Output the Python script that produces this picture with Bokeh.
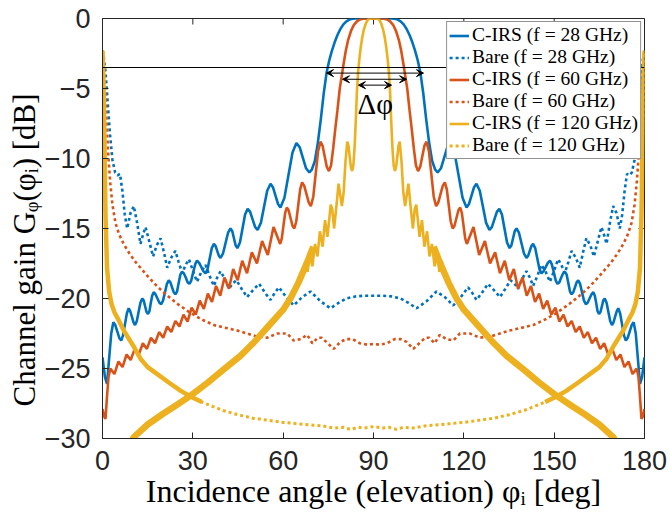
from bokeh.plotting import figure
from bokeh.models import (Range1d, FixedTicker, Span, Arrow, VeeHead, Title,
                          Legend, LegendItem, ColumnDataSource)
from bokeh.embed import file_html
from bokeh.resources import INLINE
from bokeh.core.properties import value

# ---------------- data (left half 0..90 deg; pattern is symmetric) -------------
x_ticks = [0, 30, 60, 90, 120, 150, 180]
y_ticks = [-30, -25, -20, -15, -10, -5, 0]

cirs28_ang = [0.0, 0.8, 1.5, 2.2, 2.9, 3.6, 4.25, 4.9, 5.55, 6.2, 6.8, 7.45, 8.1, 8.7, 9.2, 9.75, 10.3,
              10.8, 11.4, 12.0, 12.6, 13.2, 13.7, 14.15, 14.6, 15.1, 15.6, 16.05, 16.5, 17.0, 17.6, 18.25,
              18.9, 19.5, 20.1, 20.75, 21.4, 22.0, 22.55, 23.1, 23.65, 24.2, 24.75, 25.3, 25.85, 26.4, 27.0,
              27.65, 28.3, 28.9, 29.5, 30.15, 30.8, 31.4, 32.1, 32.8, 33.5, 34.2, 34.9, 35.6, 36.3, 37.0,
              37.55, 38.1, 38.65, 39.2, 40.0, 40.85, 41.7, 42.5, 43.1, 43.65, 44.2, 44.8, 45.65, 46.5, 47.35,
              48.2, 49.0, 49.85, 50.7, 51.5, 52.6, 53.65, 54.7, 55.8, 56.6, 57.45, 58.3, 59.1, 60.4, 61.75,
              63.1, 64.4, 65.5, 66.55, 67.6, 68.7, 69.5, 70.5, 71.5, 72.5, 73.5, 74.4, 75.3, 76.2, 77.1, 78.0,
              79.0, 80.0, 81.0, 82.0, 83.0, 84.0, 90.0]
cirs28_db = [-24.2, -25.6, -26.1, -24.3, -22.5, -21.7, -21.9, -22.35, -22.8, -23.0, -22.65, -21.85, -21.05,
             -20.7, -20.9, -21.3, -21.7, -21.9, -21.6, -20.95, -20.3, -20.0, -20.15, -20.55, -20.95, -21.1,
             -20.9, -20.3, -19.8, -19.55, -19.7, -20.0, -20.3, -20.4, -20.15, -19.55, -18.95, -18.7, -18.85,
             -19.2, -19.55, -19.7, -19.5, -18.9, -18.3, -18.1, -18.2, -18.5, -18.85, -18.95, -18.7, -18.1,
             -17.55, -17.3, -17.45, -17.75, -18.05, -18.2, -17.9, -17.15, -16.4, -16.1, -16.25, -16.6, -16.95,
             -17.1, -16.8, -16.05, -15.3, -15.0, -15.2, -15.7, -16.2, -16.4, -16.0, -15.0, -14.0, -13.6,
             -13.8, -14.35, -14.9, -15.1, -14.6, -13.45, -12.3, -11.8, -12.05, -12.65, -13.25, -13.5, -12.83,
             -11.2, -9.57, -8.9, -9.2, -9.95, -10.7, -11.0, -10.8, -10.2, -8.9, -7.2, -5.3, -3.9, -3.0, -2.3,
             -1.7, -1.2, -0.75, -0.42, -0.2, -0.08, -0.02, 0.0, 0.0]

bare28_ang = [0.0, 0.5, 1.0, 1.7, 2.5, 3.3, 4.2, 5.0, 5.8, 6.6, 7.4, 8.2, 9.3, 10.4, 11.5, 12.6, 13.5, 14.3,
              15.5, 16.8, 18.0, 19.3, 20.4, 21.5, 22.8, 24.2, 25.3, 26.5, 27.6, 28.7, 30.0, 31.4, 32.8, 34.2,
              35.6, 37.0, 38.1, 39.2, 40.6, 42.0, 43.3, 44.5, 46.2, 48.0, 50.0, 52.0, 54.0, 55.8, 57.2, 58.6,
              61.0, 63.5, 66.3, 69.1, 72.4, 75.7, 78.5, 81.0, 84.0, 87.0, 90.0]
bare28_db = [-2.3, -2.9, -3.8, -5.9, -8.3, -10.1, -11.0, -11.2, -11.1, -12.3, -14.0, -15.0, -13.9, -13.4,
             -14.6, -16.1, -15.4, -14.9, -15.9, -17.0, -16.2, -15.7, -16.7, -17.8, -17.1, -16.6, -17.4, -18.2,
             -17.6, -17.2, -18.0, -18.8, -18.1, -17.6, -18.4, -19.1, -18.5, -18.05, -18.6, -19.3, -18.9,
             -18.7, -19.3, -19.9, -19.4, -18.95, -19.6, -20.1, -19.6, -19.2, -19.9, -20.5, -19.9, -19.5,
             -20.2, -20.7, -20.3, -20.0, -19.85, -19.8, -19.8]

cirs60_ang = [0.0, 0.5, 1.0, 1.5, 2.0, 2.6, 3.95, 5.3, 6.65, 8.0, 9.35, 10.7, 12.05, 13.4, 14.75, 16.1,
              17.45, 18.8, 20.15, 21.5, 22.85, 24.2, 25.55, 26.9, 28.25, 29.6, 30.95, 32.3, 33.65, 35.0,
              36.35, 37.7, 39.1, 40.5, 42.0, 43.4, 44.9, 46.4, 48.0, 49.6, 50.45, 51.3, 52.15, 53.0, 53.95,
              54.9, 55.85, 56.8, 57.9, 59.0, 59.55, 60.1, 60.65, 61.2, 61.8, 62.45, 63.1, 63.7, 64.35, 65.0,
              65.65, 66.3, 67.0, 67.75, 68.5, 69.2, 70.0, 70.8, 71.6, 72.4, 73.1, 73.8, 74.5, 75.2, 75.9,
              76.6, 77.3, 78.0, 78.8, 79.6, 80.1, 80.8, 81.5, 82.5, 83.5, 84.5, 85.5, 86.5, 87.5, 90.0]
cirs60_db = [-27.9, -28.4, -28.6, -27.0, -25.6, -25.0, -25.4, -24.5, -24.9, -24.0, -24.4, -23.6, -24.0,
             -23.2, -23.6, -22.8, -23.2, -22.4, -22.8, -22.0, -22.4, -21.6, -22.0, -21.15, -21.65, -20.65,
             -21.15, -20.15, -20.75, -19.65, -20.25, -19.1, -19.8, -18.5, -19.3, -17.9, -18.7, -17.3, -18.2,
             -16.7, -17.1, -17.5, -16.7, -15.9, -16.4, -16.9, -15.9, -14.9, -15.5, -16.1, -15.7, -14.8,
             -13.9, -13.5, -13.7, -14.25, -14.8, -15.0, -14.5, -13.35, -12.2, -11.7, -11.95, -12.55, -13.15,
             -13.4, -12.73, -11.1, -9.47, -8.8, -9.1, -9.85, -10.6, -10.9, -10.5, -9.3, -7.9, -6.6, -5.0,
             -3.9, -3.2, -2.3, -1.6, -0.9, -0.45, -0.2, -0.07, -0.02, 0.0, 0.0]

bare60_ang = [0.0, 0.5, 1.0, 1.5, 2.0, 2.6, 3.3, 4.3, 5.5, 7.0, 9.0, 11.0, 13.0, 15.0, 18.0, 21.0, 25.0,
              29.0, 33.0, 37.0, 41.0, 45.0, 48.0, 51.0, 54.7, 58.0, 61.3, 63.5, 65.8, 68.0, 69.7, 71.5,
              72.8, 74.8, 76.8, 79.0, 81.0, 83.0, 85.5, 88.0, 90.0]
bare60_db = [-2.3, -3.6, -5.6, -8.0, -10.0, -11.8, -13.3, -14.6, -15.4, -16.1, -16.8, -17.4, -17.9, -18.4,
             -19.1, -19.7, -20.4, -21.0, -21.5, -21.9, -22.1, -22.3, -22.5, -22.7, -22.8, -22.5, -22.5,
             -23.0, -22.9, -22.6, -23.2, -22.8, -22.8, -23.2, -23.6, -23.1, -22.9, -22.9, -23.2, -23.3,
             -23.25]

cirs120_band_ang = [7.0, 10.4, 15.0, 20.0, 25.0, 29.5, 35.0, 40.0, 45.8, 50.0, 55.0, 60.0, 62.4, 65.0,
                    68.0, 70.0]
cirs120_band_db = [-31.2, -29.9, -29.0, -28.25, -27.55, -26.9, -26.0, -25.1, -24.1, -23.2, -22.0, -20.8,
                   -20.0, -18.9, -17.4, -16.3]

cirs120_ang = [66.5, 67.3, 68.1, 68.9, 69.7, 70.6, 71.4, 72.2, 73.1, 73.9, 74.7, 75.8, 76.3, 76.9, 77.6,
               78.4, 78.95, 79.5, 80.1, 80.7, 81.3, 81.7, 82.1, 82.5, 82.9, 83.3, 83.7, 84.1, 84.5, 84.9,
               85.3, 85.8, 86.3, 86.8, 87.3, 87.8, 88.3, 88.8, 89.3, 90.0]
cirs120_db = [-18.2, -17.4, -18.1, -16.9, -17.7, -16.1, -17.0, -15.2, -16.3, -14.4, -15.6, -13.3, -13.6,
              -15.0, -13.6, -11.8, -12.6, -13.4, -12.4, -10.2, -8.8, -9.1, -9.9, -10.6, -10.9, -10.5, -9.3,
              -7.4, -5.2, -3.8, -2.9, -2.0, -1.3, -0.8, -0.45, -0.2, -0.06, -0.01, 0.0, 0.0]

bare120_ang = [0.0, 0.3, 0.6, 1.0, 1.5, 2.2, 3.0, 4.0, 5.0, 7.1, 10.0, 12.6, 15.0, 18.2, 22.0, 26.0, 29.2,
               33.0, 36.5, 40.0, 45.0, 50.0, 55.0, 60.0, 65.0, 70.0, 73.0, 76.8, 80.0, 82.4, 85.0, 87.0,
               90.0]
bare120_db = [-2.3, -4.5, -8.0, -14.0, -17.8, -19.5, -20.4, -21.0, -21.4, -22.3, -23.3, -24.3, -24.9, -25.4,
              -26.0, -26.6, -27.0, -27.4, -27.7, -28.0, -28.3, -28.55, -28.7, -28.85, -28.95, -29.05, -29.1,
              -29.25, -29.2, -29.35, -29.2, -29.25, -29.15]
bare120_dense_limit = 35.0

ref_level_db = -3.5
arrow_x0 = [74.4, 79.7, 85.0]
arrow_x1 = [106.6, 101.0, 96.0]
arrow_y = [-3.9, -4.34, -4.76]
delta_label_x = [90.6]
delta_label_y = [-6.1]
delta_label_text = ["Δφ"]

x_label_text = "Incidence angle (elevation) φᵢ [deg]"
y_label_text = "Channel gain Gᵩ(φᵢ) [dB]"
labels = ["C-IRS (f = 28 GHz)", "Bare (f = 28 GHz)", "C-IRS (f = 60 GHz)",
          "Bare (f = 60 GHz)", "C-IRS (f = 120 GHz)", "Bare (f = 120 GHz)"]
colors = ["#0072BD", "#D95319", "#EDB120"]


def mirror(xs, ys):
    n = min(len(xs), len(ys))
    xs, ys = list(xs[:n]), list(ys[:n])
    rx, ry = [], []
    for x, y in zip(reversed(xs), reversed(ys)):
        if x < 90.0:
            rx.append(180.0 - x)
            ry.append(y)
    return xs + rx, ys + ry


def mirror_segment(xs, ys):
    n = min(len(xs), len(ys))
    xs, ys = list(xs[:n]), list(ys[:n])
    return [xs, [180.0 - x for x in reversed(xs)]], [ys, list(reversed(ys))]


# ---------------- figure -------------
W, H = 671, 520
BL, BR, BT, BB = 102, 27, 18, 82
p = figure(width=W, height=H, x_range=Range1d(0, 180), y_range=Range1d(-30, 0),
           output_backend="svg", toolbar_location=None,
           min_border_left=BL, min_border_right=BR, min_border_top=BT, min_border_bottom=BB)
axis_color = "#262626"
p.outline_line_color = axis_color
p.outline_line_width = 1
p.grid.visible = False
p.background_fill_color = "white"
p.border_fill_color = "white"

tick_font = "Liberation Sans"
label_font = "Liberation Serif"

p.xaxis.ticker = FixedTicker(ticks=x_ticks)
p.yaxis.ticker = FixedTicker(ticks=y_ticks)
for ax in (p.xaxis[0], p.yaxis[0]):
    ax.major_tick_in = 6
    ax.major_tick_out = 0
    ax.minor_tick_line_color = None
    ax.axis_line_color = axis_color
    ax.major_tick_line_color = axis_color
    ax.major_label_text_font = tick_font
    ax.major_label_text_font_size = "27px"
    ax.major_label_text_color = axis_color
    ax.axis_label_text_font = label_font
    ax.axis_label_text_font_style = "normal"
    ax.axis_label_text_color = "#000000"

p.xaxis.axis_label_text_font_size = "32px"
p.xaxis.major_label_standoff = 12
p.yaxis.major_label_standoff = 12
p.xaxis.axis_label = x_label_text
p.xaxis.axis_label_standoff = 0

# y-axis title: vertical text on the left, starting just above the bottom of the frame
p.add_layout(Title(text=y_label_text, align="left", offset=32, standoff=0, vertical_align="bottom",
                   text_font=label_font, text_font_size="31px", text_font_style="normal",
                   text_color="#000000"), "left")

# inward tick marks on the top and right edges of the box (6 px long)
px_per_db = (H - BT - BB) / 30.0
px_per_deg = (W - BL - BR) / 180.0
tick_len_db = 6.0 / px_per_db
tick_len_deg = 6.0 / px_per_deg
p.segment(x0=x_ticks, y0=[0.0] * len(x_ticks), x1=x_ticks, y1=[-tick_len_db] * len(x_ticks),
          line_color=axis_color, line_width=1)
p.segment(x0=[180.0] * len(y_ticks), y0=y_ticks, x1=[180.0 - tick_len_deg] * len(y_ticks), y1=y_ticks,
          line_color=axis_color, line_width=1)

lw = 2.6
dash = "3 3"

x, y = mirror(cirs28_ang, cirs28_db)
r_c28 = p.line(x, y, line_color=colors[0], line_width=lw)
x, y = mirror(bare28_ang, bare28_db)
r_b28 = p.line(x, y, line_color=colors[0], line_width=lw, line_dash=dash)

x, y = mirror(cirs60_ang, cirs60_db)
r_c60 = p.line(x, y, line_color=colors[1], line_width=lw)
x, y = mirror(bare60_ang, bare60_db)
r_b60 = p.line(x, y, line_color=colors[1], line_width=lw, line_dash=dash)

xs, ys = mirror_segment(cirs120_band_ang, cirs120_band_db)
p.multi_line(xs, ys, line_color=colors[2], line_width=6.5, line_join="round")
x, y = mirror(cirs120_ang, cirs120_db)
r_c120 = p.line(x, y, line_color=colors[2], line_width=lw)

dense_x = [a for a in bare120_ang if a <= bare120_dense_limit]
dense_y = bare120_db[:len(dense_x)]
xs, ys = mirror_segment(dense_x, dense_y)
p.multi_line(xs, ys, line_color=colors[2], line_width=4.5)
x, y = mirror(bare120_ang, bare120_db)
r_b120 = p.line(x, y, line_color=colors[2], line_width=lw + 0.4, line_dash=dash)

p.add_layout(Span(location=ref_level_db, dimension="width", line_color="black", line_width=1))

for x0, x1, ya in zip(arrow_x0, arrow_x1, arrow_y):
    p.add_layout(Arrow(x_start=x0, y_start=ya, x_end=x1, y_end=ya, line_color="black", line_width=1,
                       start=VeeHead(size=7, fill_color="black", line_color="black", line_width=1),
                       end=VeeHead(size=7, fill_color="black", line_color="black", line_width=1)))

src = ColumnDataSource(dict(x=delta_label_x, y=delta_label_y, t=delta_label_text))
p.text(x="x", y="y", text="t", source=src, text_font=value(label_font), text_font_size="29px",
       text_align="center", text_baseline="middle", text_color="black")

renderers = [r_c28, r_b28, r_c60, r_b60, r_c120, r_b120]
legend = Legend(items=[LegendItem(label=lab, renderers=[r]) for lab, r in zip(labels, renderers)],
                location="top_right")
legend.margin = 3
legend.padding = 2
legend.spacing = 0
legend.label_height = 21
legend.glyph_height = 21
legend.glyph_width = 20
legend.label_standoff = 3
legend.label_text_font = label_font
legend.label_text_font_size = "19.5px"
legend.label_text_color = "black"
legend.border_line_color = axis_color
legend.border_line_width = 1
legend.background_fill_color = "white"
legend.background_fill_alpha = 1.0
p.add_layout(legend, "center")

open("out.html", "w").write(file_html(p, INLINE))
